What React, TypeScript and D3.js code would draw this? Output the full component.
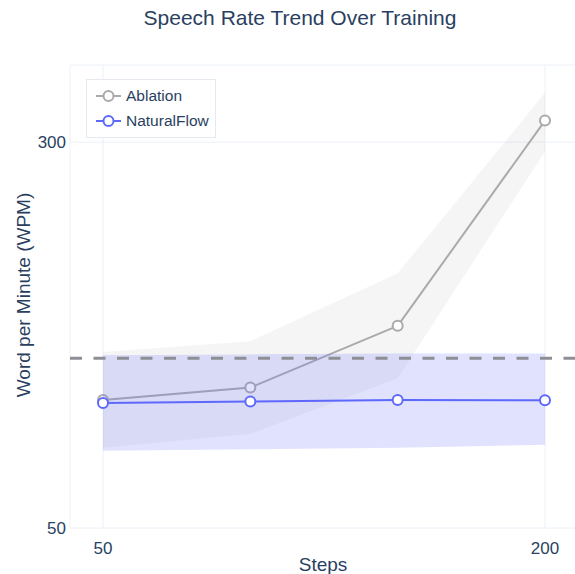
import React, { useEffect, useRef } from "react";
import * as d3 from "d3";

// values
const steps = [50, 100, 150, 200];
const ablationMean = [133, 141, 181, 314];
const ablationUpper = [164, 171, 215, 332];
const ablationLower = [102, 111, 147, 294];
const naturalMean = [131, 132, 133, 132.8];
const naturalUpper = [162, 162.5, 163, 163];
const naturalLower = [100, 101, 102, 104];
const referenceWpm = 160;
const xTicks = [50, 200];
const yTicks = [50, 300];
const seriesNames = ["Ablation", "NaturalFlow"];

const W = 575, H = 574;
const FONT = "'Liberation Sans', Arial, sans-serif";
const TXT = "#2a3f5f";
const GRID = "#ebf0f8";

export default function App() {
  const ref = useRef<SVGSVGElement>(null);

  useEffect(() => {
    const svg = d3.select(ref.current);
    svg.selectAll("*").remove();

    const plot = { left: 70, top: 65, right: 585, bottom: 528 };

    const x = d3.scaleLinear().domain([50, 200]).range([103, 545]);
    const y = d3.scaleLinear().domain([50, 350]).range([plot.bottom, plot.top]);

    const root = svg.append("g").attr("font-family", FONT);

    // grid
    root.selectAll(".vgrid").data(xTicks).enter().append("line")
      .attr("x1", d => x(d)).attr("x2", d => x(d))
      .attr("y1", plot.top).attr("y2", plot.bottom)
      .attr("stroke", GRID).attr("stroke-width", 1);
    root.selectAll(".hgrid").data(yTicks).enter().append("line")
      .attr("x1", plot.left).attr("x2", plot.right)
      .attr("y1", d => y(d)).attr("y2", d => y(d))
      .attr("stroke", GRID).attr("stroke-width", 1);
    root.append("line").attr("x1", plot.left).attr("x2", plot.right)
      .attr("y1", plot.top).attr("y2", plot.top).attr("stroke", GRID);
    root.append("line").attr("x1", plot.left).attr("x2", plot.left)
      .attr("y1", plot.top).attr("y2", plot.bottom).attr("stroke", GRID);

    const idx = d3.range(steps.length);
    const band = (up: number[], lo: number[]) =>
      d3.area<number>().x(i => x(steps[i])).y0(i => y(lo[i])).y1(i => y(up[i]))(idx);
    const line = (v: number[]) =>
      d3.line<number>().x(i => x(steps[i])).y(i => y(v[i]))(idx);

    const drawSeries = (mean: number[], up: number[], lo: number[], color: string, fill: string) => {
      root.append("path").attr("d", band(up, lo)).attr("fill", fill).attr("stroke", "none");
      root.append("path").attr("d", line(mean)).attr("fill", "none")
        .attr("stroke", color).attr("stroke-width", 2).attr("stroke-linejoin", "round");
      root.append("g").selectAll("circle").data(idx).enter().append("circle")
        .attr("cx", i => x(steps[i])).attr("cy", i => y(mean[i])).attr("r", 5)
        .attr("fill", "white").attr("stroke", color).attr("stroke-width", 2);
    };

    drawSeries(ablationMean, ablationUpper, ablationLower, "#aaaaaa", "rgba(190,190,190,0.15)");
    drawSeries(naturalMean, naturalUpper, naturalLower, "#5e68fa", "rgba(99,110,250,0.2)");

    // reference line
    root.append("line")
      .attr("x1", plot.left).attr("x2", plot.right)
      .attr("y1", y(referenceWpm)).attr("y2", y(referenceWpm))
      .attr("stroke", "#8e8e96").attr("stroke-width", 3)
      .attr("stroke-dasharray", "12,11.5");

    // tick labels
    root.selectAll(".xt").data(xTicks).enter().append("text")
      .attr("x", d => x(d)).attr("y", 554).attr("text-anchor", "middle")
      .attr("font-size", 17).attr("fill", TXT).text(d => d);
    root.selectAll(".yt").data(yTicks).enter().append("text")
      .attr("x", 66).attr("y", d => y(d)).attr("dy", "0.35em").attr("text-anchor", "end")
      .attr("font-size", 17).attr("fill", TXT).text(d => d);

    // titles
    root.append("text").attr("x", 300).attr("y", 25).attr("text-anchor", "middle")
      .attr("font-size", 21).attr("fill", TXT).text("Speech Rate Trend Over Training");
    root.append("text").attr("x", 323).attr("y", 571).attr("text-anchor", "middle")
      .attr("font-size", 19).attr("fill", TXT).text("Steps");
    root.append("text")
      .attr("transform", "translate(30,295) rotate(-90)")
      .attr("text-anchor", "middle")
      .attr("font-size", 19).attr("fill", TXT).text("Word per Minute (WPM)");

    // legend
    const lg = root.append("g").attr("transform", "translate(86,79)");
    lg.append("rect").attr("x", 0.5).attr("y", 0.5).attr("width", 129).attr("height", 58)
      .attr("fill", "rgba(255,255,255,0.9)").attr("stroke", "#e6e9ef").attr("stroke-width", 1);
    const colors = ["#aaaaaa", "#5e68fa"];
    seriesNames.forEach((name, i) => {
      const cy = 17 + i * 25;
      lg.append("line").attr("x1", 10).attr("x2", 35).attr("y1", cy).attr("y2", cy)
        .attr("stroke", colors[i]).attr("stroke-width", 2);
      lg.append("circle").attr("cx", 22.5).attr("cy", cy).attr("r", 5)
        .attr("fill", "white").attr("stroke", colors[i]).attr("stroke-width", 2);
      lg.append("text").attr("x", 40).attr("y", cy).attr("dy", "0.35em")
        .attr("font-size", 15.5).attr("fill", TXT).text(name);
    });
  }, []);

  return (
    <svg ref={ref} width={W} height={H}
      style={{ position: "absolute", left: 0, top: 0, background: "white" }} />
  );
}
